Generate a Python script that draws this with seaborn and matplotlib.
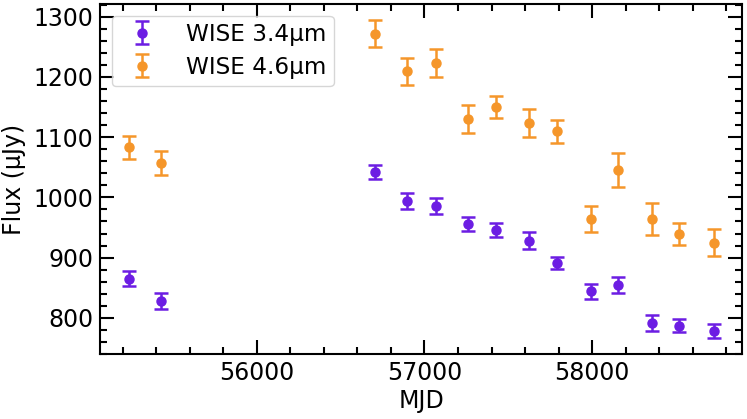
import matplotlib
matplotlib.use("Agg")
import matplotlib.pyplot as plt
from matplotlib.ticker import MultipleLocator
import seaborn as sns

# WISE light curve
mjd = [55240, 55429, 56707, 56898, 57067, 57260, 57425, 57624, 57791, 57992, 58152, 58358, 58516, 58725]
flux_w1 = [865, 828, 1042, 994, 986, 956, 946, 928, 891, 844, 855, 791, 787, 778]
err_w1 = [12, 13, 12, 13, 13, 12, 12, 14, 10, 12, 13, 13, 11, 12]
flux_w2 = [1083, 1057, 1272, 1209, 1223, 1130, 1150, 1124, 1110, 964, 1045, 964, 939, 925]
err_w2 = [19, 20, 22, 23, 23, 23, 19, 23, 19, 21, 28, 26, 18, 22]

sns.set_theme(style="ticks")
plt.rcParams['font.family'] = ['DejaVu Sans']
plt.rcParams['text.color'] = 'black'
plt.rcParams['axes.labelcolor'] = 'black'

fig = plt.figure(figsize=(7.47, 4.19), dpi=100)
ax = fig.add_axes([0.1339, 0.1551, 0.8594, 0.8354])

estilo = dict(fmt="o", markersize=6.5, elinewidth=1.8, capsize=5, capthick=1.8)
ax.errorbar(mjd, flux_w1, yerr=err_w1, color="#6c1de3", label="WISE 3.4µm", **estilo)
ax.errorbar(mjd, flux_w2, yerr=err_w2, color="#f5962a", label="WISE 4.6µm", **estilo)

ax.set_xlim(55065, 58894)
ax.set_ylim(740, 1321)
ax.xaxis.set_major_locator(MultipleLocator(1000))
ax.xaxis.set_minor_locator(MultipleLocator(200))
ax.yaxis.set_major_locator(MultipleLocator(100))
ax.yaxis.set_minor_locator(MultipleLocator(20))

ax.tick_params(which="both", direction="in", top=True, right=True, colors="black", labelsize=17, width=1.5)
ax.tick_params(which="major", length=10, pad=5)
ax.tick_params(which="minor", length=5)
for s in ax.spines.values():
    s.set_linewidth(1.5)
    s.set_color("black")

ax.set_xlabel("MJD", fontsize=17, labelpad=3)
ax.set_ylabel("Flux (µJy)", fontsize=17, labelpad=5)

ax.legend(loc="upper left", fontsize=16.7, frameon=True, framealpha=0.8, borderaxespad=0.5,
          labelspacing=0.42, handletextpad=0.9, borderpad=0.32)

fig.savefig("out.png", dpi=100)
